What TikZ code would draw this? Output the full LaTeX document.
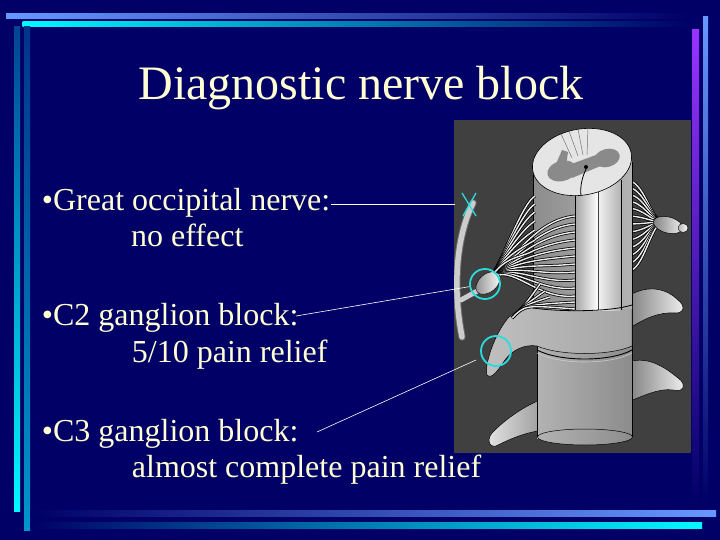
\documentclass[tikz,border=0pt]{standalone}
\usepackage{fontspec}
\setmainfont{LiberationSerif-Regular.ttf}
\newfontfamily\tnr{LiberationSerif-Regular.ttf}
\usetikzlibrary{calc}
\definecolor{navy}{RGB}{0,0,102}
\definecolor{lblue}{RGB}{102,153,255}
\definecolor{cyanb}{RGB}{0,250,255}
\definecolor{tealb}{RGB}{0,150,204}
\definecolor{purp}{RGB}{153,51,255}
\definecolor{cream}{RGB}{255,255,210}
\definecolor{imgbg}{RGB}{64,64,64}
\definecolor{markc}{RGB}{40,220,220}
\definecolor{gm}{RGB}{138,138,138}
\begin{document}
\begin{tikzpicture}[x=1pt,y=-1pt,
  body/.style={anchor=base west, text=cream, font=\tnr\fontsize{32}{38}\selectfont, inner sep=0pt},
  pointer/.style={draw=white, line width=0.8pt},
  ring/.style={draw=markc, line width=1.8pt, circle, minimum size=30pt, inner sep=0pt},
  rootlet/.style={draw=black, double=white!92!black, double distance=1.4pt, line width=0.75pt},
  edge/.style={draw=black, line width=0.6pt},
  tissue/.style={left color=black!50, right color=white!95!black, draw=black, line width=0.5pt}
]
\fill[navy] (0,0) rectangle (720,540);
\useasboundingbox (0,0) rectangle (720,540);
% frame bars
\shade[left color=lblue, middle color=lblue!75!navy, right color=navy] (6,14) rectangle (690,19);
\shade[left color=cyanb, middle color=cyanb!55!navy, right color=navy] (22.7,22) rectangle (690,27);
\shade[top color=tealb!45!navy, bottom color=cyanb] (14,27) rectangle (20,511);
\shade[top color=tealb!35!navy, bottom color=tealb] (24,27) rectangle (30,530);
\shade[left color=navy, middle color=lblue!75!navy, right color=lblue] (30,510) rectangle (716,516);
\shade[left color=navy, middle color=cyanb!55!navy, right color=cyanb] (30,522) rectangle (702,528);
\shade[top color=purp, middle color=purp!85!navy, bottom color=navy] (692,30) rectangle (699,505);
\shade[top color=lblue, middle color=lblue!80!navy, bottom color=navy] (703,17) rectangle (708,505);
% picture panel
\fill[imgbg] (454,120) rectangle (691,453);
\begin{scope}
\clip (454,120) rectangle (691,453);
% right rootlets and ganglion
\coordinate (rg) at (664,222);
\foreach \yy in {180,187,194,201,208,216,224,232,240,248,256,264,272}
  \draw[rootlet] (626,\yy) .. controls (645,\yy) and (650,222) .. (rg);
\shade[tissue, rotate around={-15:(668,225)}] (668,225) ellipse [x radius=15, y radius=8];
\shade[left color=black!30, right color=white, draw=black, line width=0.4pt] (683,228) ellipse [x radius=5, y radius=4.5];
% lower right processes
\shade[tissue] (628,296) .. controls (650,283) and (668,290) .. (678,300) .. controls (686,306) and (684,314) .. (674,313) .. controls (660,312) and (645,318) .. (630,328) -- cycle;
\shade[tissue] (628,362) .. controls (650,355) and (668,370) .. (678,378) .. controls (687,384) and (684,393) .. (673,390) .. controls (660,388) and (645,395) .. (628,402) -- cycle;
% lower left process
\shade[left color=white!90!black, right color=black!40, draw=black, line width=0.5pt] (545,398) .. controls (525,405) and (505,420) .. (495,430) .. controls (486,437) and (488,448) .. (496,446) .. controls (508,440) and (525,432) .. (545,430) -- cycle;
% lower body
\shade[left color=black!30, middle color=white, right color=black!45] (537,300) rectangle (632,438);
\shade[left color=black!30, middle color=white, right color=black!45, draw=black, line width=0.5pt] (585,437) ellipse [x radius=47.5, y radius=8];
\draw[edge] (537,300) -- (537,437);
\draw[edge] (632,300) -- (632,437);
% collar and C3 sleeve
\shade[left color=black!25, middle color=white, right color=black!35, draw=black, line width=0.5pt]
  (508,318) .. controls (525,302) and (545,300) .. (565,303) -- (632,300) -- (632,346)
  .. controls (610,356) and (560,356) .. (537,346) .. controls (525,344) and (512,350) .. (505,360)
  .. controls (498,370) and (492,380) .. (487,375) .. controls (484,366) and (494,335) .. (508,318) -- cycle;
\draw[black, line width=0.9pt] (537,350) .. controls (560,362) and (610,362) .. (632,350);
\draw[white!80!black, line width=0.6pt] (537,353) .. controls (560,365) and (610,365) .. (632,353);
% cord cylinder
\shade[left color=black!45, middle color=white, right color=black!30] (533,162) rectangle (632,308);
\draw[edge] (533,162) -- (533,308);
\draw[edge] (632,162) -- (632,306);
% front ridge
\shade[left color=black!35, right color=white] (575,175) rectangle (598,310);
\shade[left color=white!95!black, right color=black!30] (598,175) rectangle (621,310);
\draw[edge] (575,185) -- (575,310);
\draw[edge] (621,180) -- (621,310);
\draw[black!75, line width=1pt] (598,190) -- (598,310);
\draw[black, line width=0.8pt] (533,308) .. controls (560,312) and (610,312) .. (632,305);
% top section of cord
\filldraw[fill=white!90!black, draw=black, line width=0.6pt, rotate around={10:(582,162)}] (582,162) ellipse [x radius=50, y radius=33];
\fill[gm, rotate around={15:(562,171)}] (562,171) ellipse [x radius=15, y radius=10];
\fill[gm, rotate around={15:(607,158)}] (607,158) ellipse [x radius=13, y radius=9];
\fill[gm] (566,166) -- (604,152) -- (610,162) -- (572,178) -- cycle;
\fill[gm] (556,164) -- (562,150) -- (568,152) -- (566,166) -- cycle;
\draw[black!55, line width=0.5pt] (561,134) -- (572,158);
\draw[black!55, line width=0.5pt] (569,131) -- (578,156);
\draw[black!55, line width=0.5pt] (578,129) -- (583,155);
\draw[black!55, line width=0.5pt] (588,128) -- (587,155);
\fill[black] (586,167) circle [radius=2];
\draw[black, line width=0.8pt] (586,169) .. controls (582,178) and (580,186) .. (581,196);
% left rootlets
\coordinate (lg) at (490,279);
\foreach \yy in {216,224,232,240,248,256,264,272,280,288,296}
  \draw[rootlet] (lg) .. controls (512,262) and (535,\yy+4) .. (575,\yy);
\foreach \yy in {196,204,212,221,230,240,250}
  \draw[rootlet] (lg) .. controls (505,255) and (522,\yy+8) .. (535,\yy);
\coordinate (lg3) at (512,318);
\foreach \ex/\ey in {540/284,545/291,550/297,575/302,575/309}
  \draw[rootlet] (lg3) .. controls (525,305) .. (\ex,\ey);
% greater occipital nerve
\draw[black!60, line width=7.5pt, line cap=round] (473,203) .. controls (457,235) and (452,285) .. (462,337);
\draw[white!80!black, line width=5.5pt, line cap=round] (473,203) .. controls (457,235) and (452,285) .. (462,337);
\draw[white!80!black, line width=5pt, line cap=round] (461,300) -- (481,289);
% C2 ganglion
\shade[left color=black!45, right color=white, draw=black, line width=0.4pt, rotate around={40:(488,283)}] (488,283) ellipse [x radius=14, y radius=9];
\end{scope}
% markers
\node[ring] (g2) at (485,284) {};
\node[ring] (g3) at (496,351) {};
\coordinate (xa) at (462,193); \coordinate (xb) at (476,216);
\coordinate (xc) at (476,193); \coordinate (xd) at (463,216);
\draw[markc, line width=1.3pt] (xa) -- (xb);
\draw[markc, line width=1.3pt] (xc) -- (xd);
% texts
\node[anchor=base, text=cream, font=\tnr\fontsize{48}{58}\selectfont, inner sep=0pt] (title) at (361,100) {Diagnostic nerve block};
\node[body] (t1) at (41.7,211) {•Great occipital nerve:};
\node[body] (t1b) at (131,247) {no effect};
\node[body] (t2) at (41.7,325) {•C2 ganglion block:};
\node[body] (t2b) at (131.7,362) {5/10 pain relief};
\node[body] (t3) at (41.7,441) {•C3 ganglion block:};
\node[body] (t3b) at (131.7,477) {almost complete pain relief};
% pointers
\coordinate (p1a) at (331,204); \coordinate (p1b) at (455,204);
\draw[pointer] (p1a) -- (p1b);
\coordinate (p2a) at (296,316);
\draw[pointer, line width=0.6pt] (p2a) -- (g2);
\coordinate (p3a) at (317,432); \coordinate (p3b) at (476,360);
\draw[pointer, line width=0.6pt] (p3a) -- (p3b);
\end{tikzpicture}
\end{document}
